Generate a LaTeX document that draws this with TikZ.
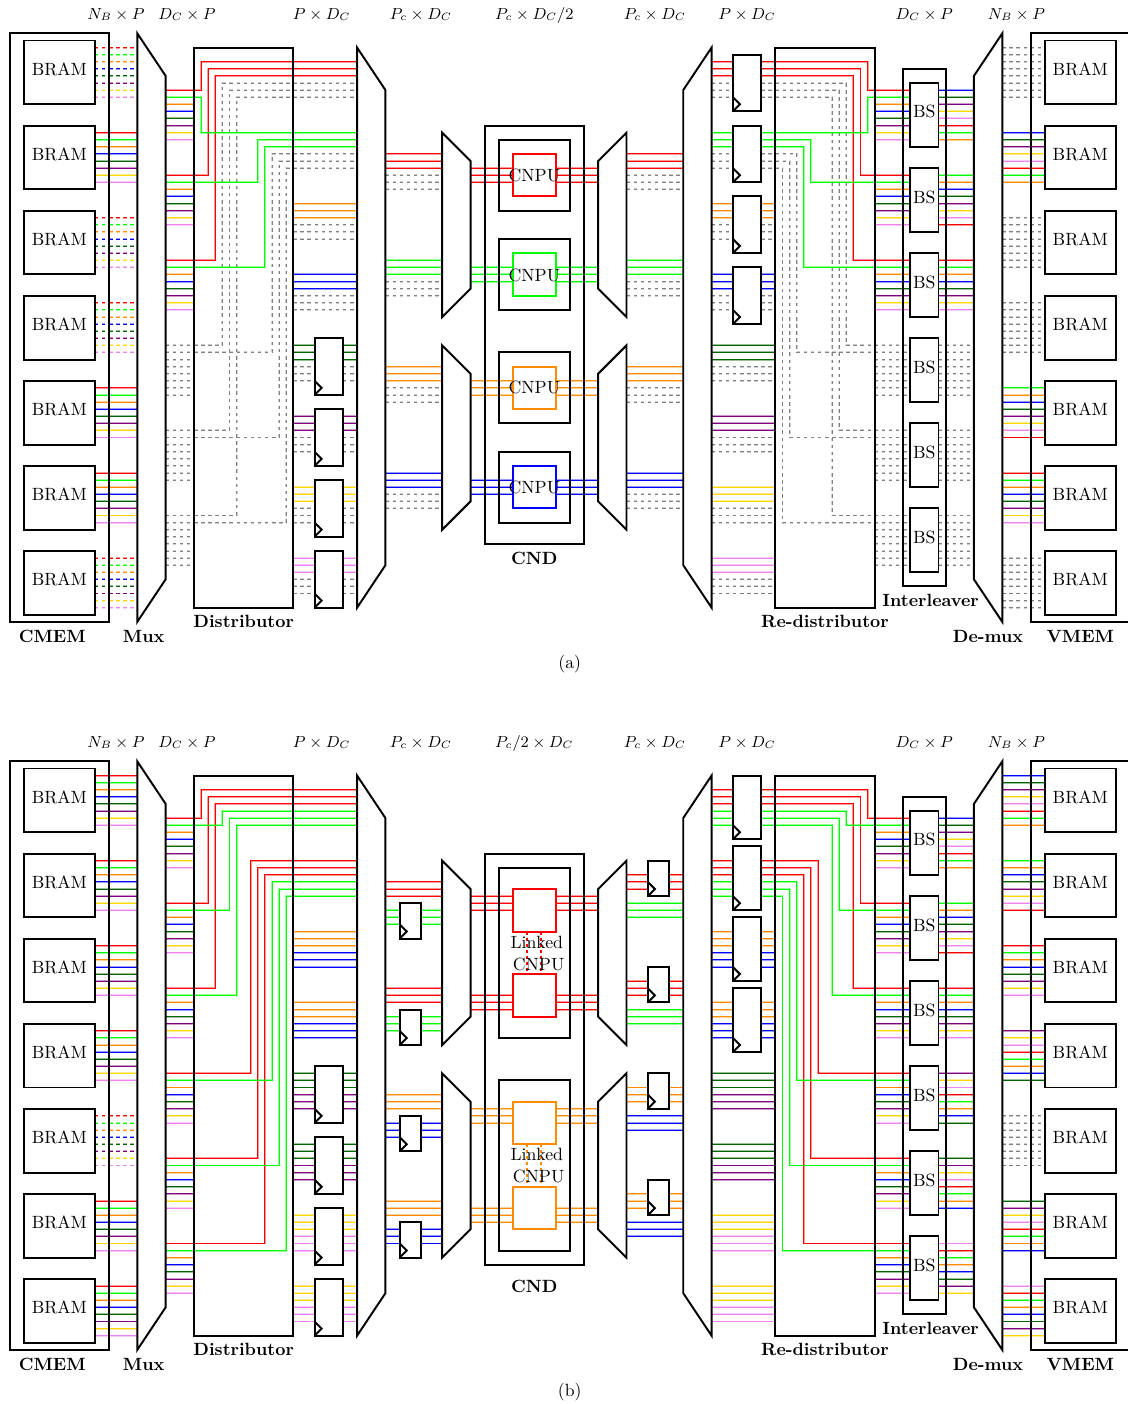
\documentclass[tikz,border=0pt]{standalone}
\definecolor{rd}{RGB}{255,0,0}
\definecolor{gn}{RGB}{0,255,0}
\definecolor{og}{RGB}{255,140,0}
\definecolor{bl}{RGB}{0,0,255}
\definecolor{dg}{RGB}{0,100,0}
\definecolor{pu}{RGB}{128,0,128}
\definecolor{ye}{RGB}{255,215,0}
\definecolor{pk}{RGB}{238,130,238}
\definecolor{gy}{RGB}{128,128,128}
\tikzset{
  wire/.style={line width=0.5pt,draw=#1,preaction={draw=#1,line width=1.1pt,draw opacity=0.4}},
  dwire/.style={line width=0.5pt,draw=#1,dash pattern=on 2pt off 2pt,
    preaction={draw=#1,line width=1.1pt,draw opacity=0.4,dash pattern=on 2pt off 2pt}},
  gwire/.style={dwire=gy},
  blk/.style={draw=black,line width=1.1pt},
  frame/.style={blk,inner sep=0pt,outer sep=0pt},
  bram/.style={frame,text depth=3.4pt,text height=6.83pt},
  bsbox/.style={frame,text depth=3.4pt,text height=6.83pt},
  fifobox/.style={frame,fill=white},
  cnpubox/.style={draw,line width=1.1pt,inner sep=0pt,outer sep=0pt},
  tag/.style={inner sep=0pt,font=\bfseries},
  dim/.style={inner sep=0pt,anchor=base,font=\small},
  plain/.style={inner sep=0pt},
  linkdash/.style={line width=1.1pt,dash pattern=on 1.7pt off 1.7pt},
}
% box node from grid corners: style, name, k1, r1, k2, r2, text
\newcommand{\gbox}[7]{%
  \pgfmathsetmacro\gcx{(#3+#5)/2}\pgfmathsetmacro\gcy{(#4+#6)/2}%
  \pgfmathsetmacro\gw{(#5-#3)*4}\pgfmathsetmacro\gh{(#6-#4)*4}%
  \node[#1,minimum width=\gw pt,minimum height=\gh pt] (#2) at (\gcx,\gcy) {#7};}
\newcommand{\trap}[6]{\draw[blk,line join=miter] (#1,#2) -- (#1,#3) -- (#4,#6) -- (#4,#5) -- cycle;}
% horizontal bus between two named columns
\newcommand{\bus}[4]{%
  \edef\wlist{#4}%
  \foreach \wc [count=\wi from 0] in \wlist {%
    \pgfmathsetmacro\rr{#3+\wi}%
    \draw[wire=\wc] (#1 |- 0,\rr) -- (#2 |- 0,\rr);}}
\newcommand{\dbus}[4]{%
  \edef\wlist{#4}%
  \foreach \wc [count=\wi from 0] in \wlist {%
    \pgfmathsetmacro\rr{#3+\wi}%
    \draw[dwire=\wc] (#1 |- 0,\rr) -- (#2 |- 0,\rr);}}
\newcommand{\gbus}[4]{%
  \foreach \wi in {1,...,#4}{%
    \pgfmathsetmacro\rr{#3+\wi-1}%
    \draw[gwire] (#1 |- 0,\rr) -- (#2 |- 0,\rr);}}
% routed wire: style, start column, r1, bend k, r2, end column
\newcommand{\route}[6]{\draw[#1] (#2 |- 0,#3) -- (#4,#3) -- (#4,#5) -- (#6 |- 0,#5);}
\newcommand{\eight}{rd,gn,og,bl,dg,pu,ye,pk}
\newcommand{\six}{og,bl,dg,pu,ye,pk}
\newcommand{\fifo}[5]{%
  \gbox{fifobox}{#1}{#2}{#3}{#4}{#5}{}
  \draw[blk] (#1.south west) -- ++(1,-1) -- ++(-1,-1);}
% common frames of a panel: #1 prefix, #2 CND bottom row
\newcommand{\frames}[2]{%
  \gbox{frame}{#1-cmem}{0}{0}{14}{83}{}
  \gbox{frame}{#1-dist}{26}{2}{40}{81}{}
  \gbox{frame}{#1-redi}{108}{2}{122}{81}{}
  \gbox{frame}{#1-intl}{126}{5}{132}{78}{}
  \gbox{frame}{#1-cnd}{67}{13}{81}{#2}{}
  \draw[blk] (158,0) -- (144,0) -- (144,83) -- (158,83);
  \foreach \j in {0,...,6}{%
    \pgfmathsetmacro\ta{1+12*\j}\pgfmathsetmacro\tb{10+12*\j}%
    \gbox{bram}{#1-cb\j}{2}{\ta}{12}{\tb}{BRAM}
    \gbox{bram}{#1-vb\j}{146}{\ta}{156}{\tb}{BRAM}}
  \foreach \j in {0,...,5}{%
    \pgfmathsetmacro\ta{7+12*\j}\pgfmathsetmacro\tb{16+12*\j}%
    \gbox{bsbox}{#1-bs\j}{127}{\ta}{131}{\tb}{BS}}
  \foreach \j in {0,...,3}{%
    \pgfmathsetmacro\ta{43+10*\j}\pgfmathsetmacro\tb{51+10*\j}%
    \fifo{#1-lf\j}{43}{\ta}{47}{\tb}}
  \trap{18}{0}{83}{22}{6}{77}
  \trap{53}{8}{75}{49}{2}{81}
  \trap{61}{14}{40}{65}{18}{36}
  \trap{61}{44}{70}{65}{48}{66}
  \trap{87}{14}{40}{83}{18}{36}
  \trap{87}{44}{70}{83}{48}{66}
  \trap{95}{8}{75}{99}{2}{81}
  \trap{140}{0}{83}{136}{6}{77}
  \node[tag] (#1-tcmem) at (6,85) {CMEM};
  \node[tag] (#1-tmux) at (18.9,85) {Mux};
  \node[tag] (#1-tdist) at (33,83) {Distributor};
  \node[tag] (#1-tcnd) at (74,74) {CND};
  \node[tag] (#1-tredi) at (115,83) {Re-distributor};
  \node[tag] (#1-tintl) at (129.9,80) {Interleaver};
  \node[tag] (#1-tdem) at (138,85) {De-mux};
  \node[tag] (#1-tvm) at (151,85) {VMEM};
  \node[dim] (#1-d1) at (15,-2) {$N_B\times P$};
  \node[dim] (#1-d2) at (25,-2) {$D_C\times P$};
  \node[dim] (#1-d3) at (44,-2) {$P\times D_C$};
  \node[dim] (#1-d4) at (58,-2) {$P_c\times D_C$};
  \node[dim] (#1-d6) at (91,-2) {$P_c\times D_C$};
  \node[dim] (#1-d7) at (104,-2) {$P\times D_C$};
  \node[dim] (#1-d8) at (129,-2) {$D_C\times P$};
  \node[dim] (#1-d9) at (142,-2) {$N_B\times P$};
}
\begin{document}
\begin{tikzpicture}[x=4pt,y=-4pt,line cap=butt]
\useasboundingbox (-1.368,-4.71) rectangle (157.73,193.32);
\clip (-1.368,-4.71) rectangle (157.73,193.32);
% named columns
\foreach \n/\k in {cbR/12,muxL/18,muxR/22,distL/26,distR/40,outL/49,outR/53,
  mlL/61,mlR/65,cnL/71,cnR/77,mrL/83,mrR/87,inL/95,inR/99,rediL/108,rediR/122,
  bsL/127,bsR/131,demL/136,demR/140,vbL/146}{\coordinate (\n) at (\k,0);}
%%%%%%%%%%%%%%%%%%%%% panel (a)
\begin{scope}
% CMEM to Mux
\dbus{cbR}{muxL}{2}{\eight}
\bus{cbR}{muxL}{14}{\eight}
\dbus{cbR}{muxL}{26}{\eight}
\dbus{cbR}{muxL}{38}{\eight}
\bus{cbR}{muxL}{50}{\eight}
\bus{cbR}{muxL}{62}{\eight}
\dbus{cbR}{muxL}{74}{\eight}
% Mux to Distributor
\foreach \r in {10,22,34}{\bus{muxR}{distL}{\r}{\six}}
\foreach \r in {44,56,68}{\gbus{muxR}{distL}{\r}{8}}
% Distributor routes
\route{wire=rd}{muxR}{8}{27}{4}{outL}
\route{wire=rd}{muxR}{20}{28}{5}{outL}
\route{wire=rd}{muxR}{32}{29}{6}{outL}
\route{gwire}{distL}{44}{30}{7}{outL}
\route{gwire}{distL}{56}{31}{8}{outL}
\route{gwire}{distL}{68}{32}{9}{outL}
\route{wire=gn}{muxR}{9}{27}{14}{outL}
\route{wire=gn}{muxR}{21}{35}{15}{outL}
\route{wire=gn}{muxR}{33}{36}{16}{outL}
\route{gwire}{distL}{45}{37}{17}{outL}
\route{gwire}{distL}{57}{38}{18}{outL}
\route{gwire}{distL}{69}{39}{19}{outL}
% Distributor to out trapezoid
\foreach \r/\c in {24/og,34/bl,44/dg,54/pu,64/ye,74/pk}{%
  \bus{distR}{outL}{\r}{\c,\c,\c}
  \pgfmathsetmacro\rg{\r+3}\gbus{distR}{outL}{\rg}{3}}
% middle
\foreach \r/\c in {17/rd,32/gn,47/og,62/bl}{%
  \bus{outR}{mlL}{\r}{\c,\c,\c}\bus{mrR}{inL}{\r}{\c,\c,\c}
  \pgfmathsetmacro\rg{\r+3}\gbus{outR}{mlL}{\rg}{3}\gbus{mrR}{inL}{\rg}{3}}
\foreach \r/\c in {19/rd,33/gn,49/og,63/bl}{%
  \bus{mlR}{cnL}{\r}{\c,\c,\c}\bus{cnR}{mrL}{\r}{\c,\c,\c}}
% right trapezoid to Re-distributor
\foreach \r/\c in {24/og,34/bl,44/dg,54/pu,64/ye,74/pk}{%
  \bus{inR}{rediL}{\r}{\c,\c,\c}
  \pgfmathsetmacro\rg{\r+3}\gbus{inR}{rediL}{\rg}{3}}
% Re-distributor routes
\route{wire=rd}{inR}{4}{121}{8}{bsL}
\route{wire=rd}{inR}{5}{120}{20}{bsL}
\route{wire=rd}{inR}{6}{119}{32}{bsL}
\route{gwire}{inR}{7}{118}{44}{bsL}
\route{gwire}{inR}{8}{117}{56}{bsL}
\route{gwire}{inR}{9}{116}{68}{bsL}
\route{wire=gn}{inR}{14}{121}{9}{bsL}
\route{wire=gn}{inR}{15}{113}{21}{bsL}
\route{wire=gn}{inR}{16}{112}{33}{bsL}
\route{gwire}{inR}{17}{111}{45}{bsL}
\route{gwire}{inR}{18}{110}{57}{bsL}
\route{gwire}{inR}{19}{109}{69}{bsL}
\foreach \r in {10,22,34}{\bus{rediR}{bsL}{\r}{\six}}
\foreach \r in {46,58,70}{\gbus{rediR}{bsL}{\r}{6}}
% Interleaver out
\bus{bsR}{demL}{8}{bl,dg,pu,ye,pk,rd,gn,og}
\bus{bsR}{demL}{20}{gn,og,bl,dg,pu,ye,pk,rd}
\bus{bsR}{demL}{32}{\eight}
\foreach \r in {44,56,68}{\gbus{bsR}{demL}{\r}{8}}
% De-mux to VMEM
\gbus{demR}{vbL}{2}{8}
\bus{demR}{vbL}{14}{bl,dg,pu,ye,pk,rd,gn,og}
\gbus{demR}{vbL}{26}{8}
\gbus{demR}{vbL}{38}{8}
\bus{demR}{vbL}{50}{gn,og,bl,dg,pu,ye,pk,rd}
\bus{demR}{vbL}{62}{\eight}
\gbus{demR}{vbL}{74}{8}
\frames{a}{72}
\foreach \r [count=\j from 0] in {3,13,23,33}{%
  \pgfmathsetmacro\rb{\r+8}\fifo{a-rf\j}{102}{\r}{106}{\rb}}
\foreach \r/\b [count=\j from 0] in {15/25,29/39,45/55,59/69}{\gbox{frame}{a-cn\j}{69}{\r}{79}{\b}{}}
\gbox{cnpubox,draw=rd}{a-cu0}{71}{17}{77}{23}{}
\gbox{cnpubox,draw=gn}{a-cu1}{71}{31}{77}{37}{}
\gbox{cnpubox,draw=og}{a-cu2}{71}{47}{77}{53}{}
\gbox{cnpubox,draw=bl}{a-cu3}{71}{61}{77}{67}{}
\node[plain] (a-ct0) at (74,20.1) {CNPU};
\node[plain] (a-ct1) at (74,34.1) {CNPU};
\node[plain] (a-ct2) at (74,50) {CNPU};
\node[plain] (a-ct3) at (74,64.1) {CNPU};
\node[dim] (a-d5) at (74,-2) {$P_c\times D_C/2$};
\node[plain] (a-cap) at (79,89) {(a)};
\end{scope}
%%%%%%%%%%%%%%%%%%%%% panel (b)
\begin{scope}[yshift=-410.72pt]
% CMEM to Mux
\foreach \r in {2,14,26,38,62,74}{\bus{cbR}{muxL}{\r}{\eight}}
\dbus{cbR}{muxL}{50}{\eight}
\foreach \r in {10,22,34,46,58,70}{\bus{muxR}{distL}{\r}{\six}}
\route{wire=rd}{muxR}{8}{27}{4}{outL}
\route{wire=rd}{muxR}{20}{28}{5}{outL}
\route{wire=rd}{muxR}{32}{29}{6}{outL}
\route{wire=gn}{muxR}{9}{30}{7}{outL}
\route{wire=gn}{muxR}{21}{31}{8}{outL}
\route{wire=gn}{muxR}{33}{32}{9}{outL}
\route{wire=rd}{muxR}{44}{34}{14}{outL}
\route{wire=rd}{muxR}{56}{35}{15}{outL}
\route{wire=rd}{muxR}{68}{36}{16}{outL}
\route{wire=gn}{muxR}{45}{37}{17}{outL}
\route{wire=gn}{muxR}{57}{38}{18}{outL}
\route{wire=gn}{muxR}{69}{39}{19}{outL}
\foreach \r/\c/\d in {24/og/bl,34/og/bl,44/dg/pu,54/dg/pu,64/ye/pk,74/ye/pk}{%
  \bus{distR}{outL}{\r}{\c,\c,\c,\d,\d,\d}
  \bus{inR}{rediL}{\r}{\c,\c,\c,\d,\d,\d}}
% middle left
\foreach \r/\c/\d in {17/rd/gn,32/rd/gn,47/og/bl,62/og/bl}{%
  \bus{outR}{mlL}{\r}{\c,\c,\c}
  \pgfmathsetmacro\rg{\r+4}\bus{outR}{mlL}{\rg}{\d,\d,\d}}
\foreach \r/\c in {19/rd,33/rd,49/og,63/og}{%
  \bus{mlR}{cnL}{\r}{\c,\c,\c}\bus{cnR}{mrL}{\r}{\c,\c,\c}}
% middle right
\foreach \r/\c/\d in {16/rd/gn,31/rd/gn,46/og/bl,61/og/bl}{%
  \bus{mrR}{inL}{\r}{\c,\c,\c}
  \pgfmathsetmacro\rg{\r+4}\bus{mrR}{inL}{\rg}{\d,\d,\d}}
% Re-distributor routes
\route{wire=rd}{inR}{4}{121}{8}{bsL}
\route{wire=rd}{inR}{5}{120}{20}{bsL}
\route{wire=rd}{inR}{6}{119}{32}{bsL}
\route{wire=gn}{inR}{7}{118}{9}{bsL}
\route{wire=gn}{inR}{8}{117}{21}{bsL}
\route{wire=gn}{inR}{9}{116}{33}{bsL}
\route{wire=rd}{inR}{14}{114}{44}{bsL}
\route{wire=rd}{inR}{15}{113}{56}{bsL}
\route{wire=rd}{inR}{16}{112}{68}{bsL}
\route{wire=gn}{inR}{17}{111}{45}{bsL}
\route{wire=gn}{inR}{18}{110}{57}{bsL}
\route{wire=gn}{inR}{19}{109}{69}{bsL}
\foreach \r in {10,22,34,46,58,70}{\bus{rediR}{bsL}{\r}{\six}}
% Interleaver out and De-mux to VMEM
\bus{bsR}{demL}{8}{bl,dg,pu,ye,pk,rd,gn,og}
\bus{bsR}{demL}{20}{gn,og,bl,dg,pu,ye,pk,rd}
\bus{bsR}{demL}{32}{\eight}
\bus{bsR}{demL}{44}{pu,ye,pk,rd,gn,og,bl,dg}
\bus{bsR}{demL}{56}{dg,pu,ye,pk,rd,gn,og,bl}
\bus{bsR}{demL}{68}{pk,rd,gn,og,bl,dg,pu,ye}
\bus{demR}{vbL}{2}{bl,dg,pu,ye,pk,rd,gn,og}
\bus{demR}{vbL}{14}{gn,og,bl,dg,pu,ye,pk,rd}
\bus{demR}{vbL}{26}{\eight}
\bus{demR}{vbL}{38}{pu,ye,pk,rd,gn,og,bl,dg}
\gbus{demR}{vbL}{50}{8}
\bus{demR}{vbL}{62}{dg,pu,ye,pk,rd,gn,og,bl}
\bus{demR}{vbL}{74}{pk,rd,gn,og,bl,dg,pu,ye}
\frames{b}{71}
\foreach \r [count=\j from 0] in {2,12,22,32}{%
  \pgfmathsetmacro\rb{\r+9}\fifo{b-rf\j}{102}{\r}{106}{\rb}}
\foreach \r [count=\j from 0] in {20,35,50,65}{%
  \pgfmathsetmacro\rb{\r+5}\fifo{b-sl\j}{55}{\r}{58}{\rb}}
\foreach \r [count=\j from 0] in {14,29,44,59}{%
  \pgfmathsetmacro\rb{\r+5}\fifo{b-sr\j}{90}{\r}{93}{\rb}}
\gbox{frame}{b-cn0}{69}{15}{79}{39}{}
\gbox{frame}{b-cn1}{69}{45}{79}{69}{}
\gbox{cnpubox,draw=rd}{b-cu0}{71}{18}{77}{24}{}
\gbox{cnpubox,draw=rd}{b-cu1}{71}{30}{77}{36}{}
\gbox{cnpubox,draw=og}{b-cu2}{71}{48}{77}{54}{}
\gbox{cnpubox,draw=og}{b-cu3}{71}{60}{77}{66}{}
\draw[linkdash,rd] (b-cu0.south -| 73,0) -- (b-cu1.north -| 73,0);
\draw[linkdash,rd] (b-cu0.south -| 75,0) -- (b-cu1.north -| 75,0);
\draw[linkdash,og] (b-cu2.south -| 73,0) -- (b-cu3.north -| 73,0);
\draw[linkdash,og] (b-cu2.south -| 75,0) -- (b-cu3.north -| 75,0);
\node[plain] (b-lk0) at (74.35,25.6) {Linked};
\node[plain] (b-lc0) at (74.6,28.6) {CNPU};
\node[plain] (b-lk1) at (74.35,55.5) {Linked};
\node[plain] (b-lc1) at (74.6,58.6) {CNPU};
\node[dim] (b-d5) at (74,-2) {$P_c/2\times D_C$};
\node[plain] (b-cap) at (79,89) {(b)};
\end{scope}
\end{tikzpicture}
\end{document}
